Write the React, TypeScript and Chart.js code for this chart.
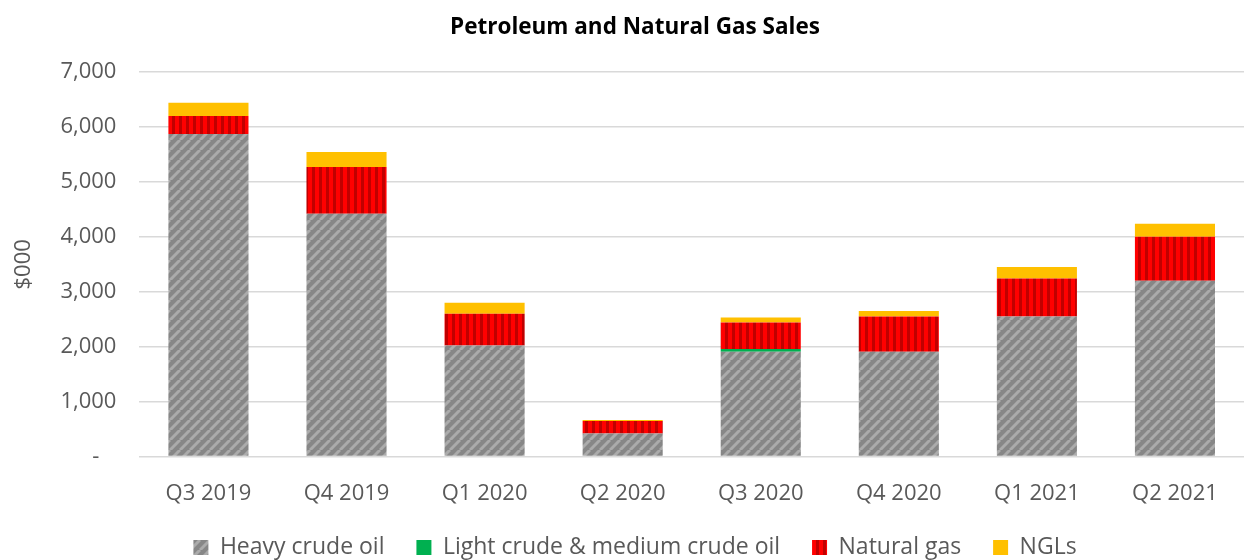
import React, { useEffect, useRef } from "react";
import { Chart, registerables } from "chart.js";

Chart.register(...registerables);

const categories = ["Q3 2019", "Q4 2019", "Q1 2020", "Q2 2020", "Q3 2020", "Q4 2020", "Q1 2021", "Q2 2021"];
const heavyCrude = [5870, 4420, 2020, 420, 1910, 1910, 2550, 3200];
const lightCrude = [0, 0, 0, 0, 50, 0, 0, 0];
const naturalGas = [330, 850, 580, 230, 480, 640, 690, 800];
const ngls = [240, 275, 200, 15, 90, 100, 210, 240];
const yTicks = [0, 1000, 2000, 3000, 4000, 5000, 6000, 7000];
const seriesNames = ["Heavy crude oil", "Light crude & medium crude oil", "Natural gas", "NGLs"];

function heavyPattern(): CanvasPattern | string {
  const c = document.createElement("canvas");
  c.width = 10;
  c.height = 10;
  const ctx = c.getContext("2d");
  if (!ctx) return "#8c8c8c";
  ctx.fillStyle = "#878787";
  ctx.fillRect(0, 0, 10, 10);
  ctx.strokeStyle = "#ababab";
  ctx.lineWidth = 3;
  for (const off of [-10, 0, 10]) {
    ctx.beginPath();
    ctx.moveTo(off, 10);
    ctx.lineTo(off + 10, 0);
    ctx.stroke();
  }
  return ctx.createPattern(c, "repeat") || "#8c8c8c";
}

function gasPattern(): CanvasPattern | string {
  const c = document.createElement("canvas");
  c.width = 7;
  c.height = 4;
  const ctx = c.getContext("2d");
  if (!ctx) return "#ff0000";
  ctx.fillStyle = "#ff0000";
  ctx.fillRect(0, 0, 7, 4);
  ctx.fillStyle = "#c00000";
  ctx.fillRect(4, 0, 3, 4);
  return ctx.createPattern(c, "repeat") || "#ff0000";
}

export default function App() {
  const ref = useRef<HTMLCanvasElement | null>(null);
  useEffect(() => {
    document.body.style.margin = "0";
    if (!ref.current) return;
    const font = "'Open Sans', 'Noto Sans', sans-serif";
    const chart = new Chart(ref.current, {
      type: "bar",
      data: {
        labels: categories,
        datasets: [
          { label: seriesNames[0], data: heavyCrude, backgroundColor: heavyPattern() as any },
          { label: seriesNames[1], data: lightCrude, backgroundColor: "#00b050" },
          { label: seriesNames[2], data: naturalGas, backgroundColor: gasPattern() as any },
          { label: seriesNames[3], data: ngls, backgroundColor: "#ffc000" },
        ],
      },
      options: {
        animation: false,
        responsive: false,
        maintainAspectRatio: false,
        layout: { padding: { left: 11, right: -15, top: 14, bottom: -9 } },
        datasets: { bar: { barPercentage: 0.58, categoryPercentage: 1 } },
        plugins: {
          title: {
            display: true,
            text: "Petroleum and Natural Gas Sales",
            color: "#000000",
            font: { family: font, size: 22.5, weight: "bold" },
            padding: { top: 0, bottom: 31 },
          },
          legend: {
            position: "bottom",
            labels: {
              color: "#595959",
              font: { family: font, size: 23 },
              boxWidth: 15,
              boxHeight: 15,
              padding: 20,
              generateLabels: (ch: any) => {
                const items = Chart.defaults.plugins.legend.labels.generateLabels(ch);
                return items.map((it: any, i: number) => ({
                  ...it,
                  text: i < items.length - 1 ? it.text + "  " : it.text,
                }));
              },
            },
          },
          tooltip: { enabled: false },
        },
        scales: {
          x: {
            stacked: true,
            grid: { display: false, drawTicks: true, tickLength: 15 },
            border: { display: true, color: "#d9d9d9" },
            ticks: { color: "#595959", font: { family: font, size: 22 }, padding: 9 },
          },
          y: {
            stacked: true,
            min: 0,
            max: 7000,
            afterBuildTicks: (axis: any) => {
              axis.ticks = yTicks.map((v) => ({ value: v }));
            },
            grid: { color: "#d9d9d9", lineWidth: 1.5, drawTicks: false },
            border: { display: false },
            ticks: {
              color: "#595959",
              font: { family: font, size: 22 },
              padding: 23,
              callback: (v: any) => (Number(v) === 0 ? "-   " : Number(v).toLocaleString("en-US")),
            },
            title: {
              display: true,
              text: "$000",
              color: "#595959",
              font: { family: font, size: 22 },
              padding: { top: 0, bottom: 0 },
            },
          },
        },
      },
    });
    return () => chart.destroy();
  }, []);
  return <canvas ref={ref} width={1244} height={560} style={{ display: "block" }} />;
}
